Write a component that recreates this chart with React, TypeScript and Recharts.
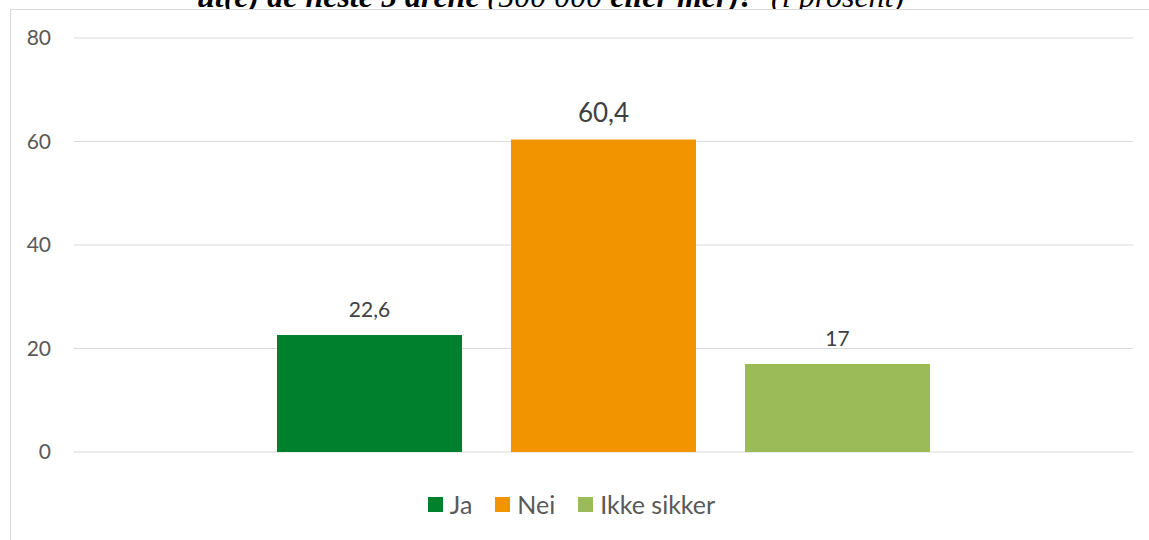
import { BarChart, Bar, XAxis, YAxis, CartesianGrid, Legend, LabelList } from 'recharts';

// one category, three answer series
const seriesNames = ['Ja', 'Nei', 'Ikke sikker'];
const seriesValues = [22.6, 60.4, 17];
const seriesColors = ['#007f2d', '#f29400', '#9bbb59'];
const yTicks = [0, 20, 40, 60, 80];
// title is clipped by the frame in the original; parts in brackets are not bold
const titleParts = [
  { text: 'ut(e) de neste 5 årene ', bold: true },
  { text: '(500 000 ', bold: false },
  { text: 'eller mer)?  ', bold: true },
  { text: '(i prosent)', bold: false },
];

const row: Record<string, number | string> = { name: '' };
seriesNames.forEach((n, i) => {
  row[n] = seriesValues[i];
});
const chartData = [row];

const fmt = (v: unknown) => String(v).replace('.', ',');

function LegendContent() {
  return (
    <div style={{ display: 'flex', justifyContent: 'center', alignItems: 'center', height: 30 }}>
      {seriesNames.map((n, i) => (
        <div key={n} style={{ display: 'flex', alignItems: 'center', marginRight: i < seriesNames.length - 1 ? 23 : 0 }}>
          <span style={{ width: 15, height: 15, background: seriesColors[i], display: 'inline-block', marginRight: 7 }} />
          <span style={{ fontSize: 25, color: '#595959', lineHeight: '30px' }}>{n}</span>
        </div>
      ))}
    </div>
  );
}

export default function App() {
  return (
    <div style={{ position: 'absolute', left: 0, top: 0, width: 1149, height: 540, overflow: 'hidden', background: '#fff', fontFamily: 'Lato, sans-serif' }}>
      <div style={{ position: 'absolute', left: 0, top: 0, width: 1149, height: 9, overflow: 'hidden' }}>
        <span
          style={{
            position: 'absolute',
            left: 197,
            top: -20,
            fontFamily: '"Liberation Serif", "Times New Roman", serif',
            fontStyle: 'italic',
            fontSize: 32,
            lineHeight: '32px',
            whiteSpace: 'pre',
            color: '#000',
          }}
        >
          {titleParts.map((p, i) => (
            <span key={i} style={{ fontWeight: p.bold ? 'bold' : 'normal' }}>
              {p.text}
            </span>
          ))}
        </span>
      </div>
      <div style={{ position: 'absolute', left: 10, top: 9, width: 1200, height: 600, border: '1px solid #d9d9d9' }} />
      <div style={{ position: 'absolute', left: 0, top: 0 }}>
        <BarChart
          width={1149}
          height={540}
          data={chartData}
          margin={{ top: 38, right: 16, left: 10, bottom: 58 }}
          barCategoryGap={203}
          barGap={49}
        >
          <CartesianGrid vertical={false} stroke="#d9d9d9" strokeWidth={1} />
          <XAxis dataKey="name" hide />
          <YAxis
            domain={[0, 80]}
            ticks={yTicks}
            width={64}
            axisLine={false}
            tickLine={false}
            tickSize={0}
            tickMargin={23}
            tick={{ fontSize: 21, fill: '#595959' }}
          />
          <Legend verticalAlign="bottom" height={30} wrapperStyle={{ bottom: 21 }} content={<LegendContent />} />
          {seriesNames.map((n, i) => (
            <Bar key={n} dataKey={n} fill={seriesColors[i]} isAnimationActive={false}>
              <LabelList
                dataKey={n}
                position="top"
                offset={n === 'Nei' ? 17 : 18}
                formatter={fmt}
                style={{ fontSize: n === 'Nei' ? 26 : 21, fill: '#404040' }}
              />
            </Bar>
          ))}
        </BarChart>
      </div>
    </div>
  );
}
